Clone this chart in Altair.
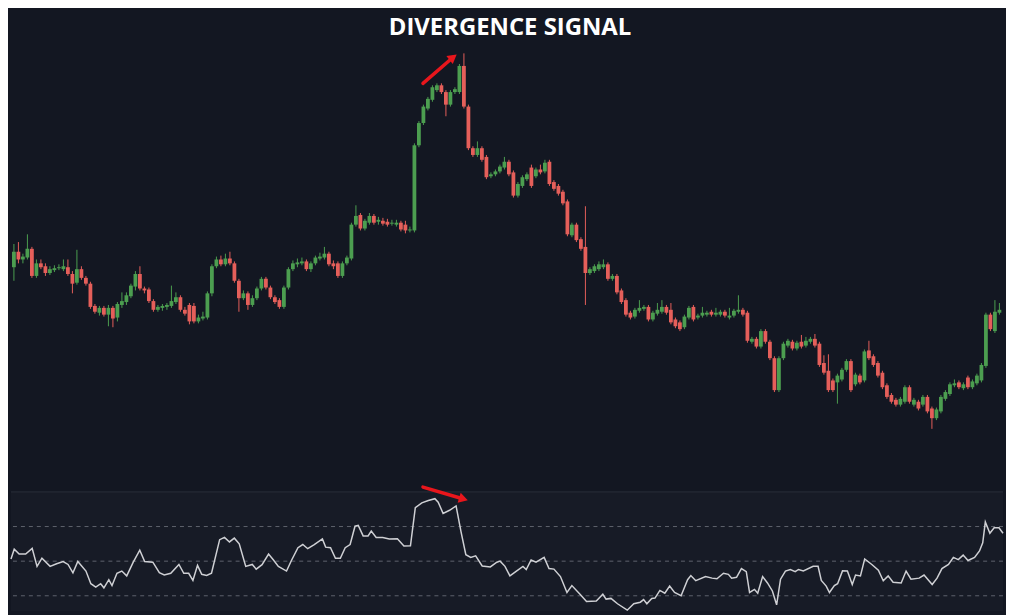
import altair as alt
import pandas as pd

TITLE = "DIVERGENCE SIGNAL"
LEVEL = 500  # candle readings are measured downward from this level

O = [266,250,258,256,247,275,262,265,272,269,
     267,268,266,273,282,268,277,283,306,313,
     308,315,308,318,305,302,296,286,273,288,
     289,301,310,308,307,306,302,297,310,305,
     306,322,319,318,293,265,258,263,257,262,
     280,298,293,305,298,288,278,287,297,300,
     307,287,268,263,262,260,268,262,257,256,
     252,262,262,275,262,257,222,212,226,220,
     213,219,218,219,221,222,220,222,228,228,
     140,117,102,93,83,78,85,98,85,85,
     58,100,143,150,143,152,172,170,167,163,
     157,168,192,182,175,163,172,165,167,157,
     178,182,188,198,233,222,237,245,272,270,
     268,266,263,278,275,290,300,313,317,311,
     309,307,320,314,312,307,310,320,323,
     328,318,307,318,316,315,312,315,315,312,
     318,316,312,310,313,343,340,348,332,343,
     360,393,360,347,343,350,343,347,343,340,
     345,365,373,383,385,382,372,363,387,378,
     383,352,358,365,375,388,398,403,408,405,
     390,408,405,408,400,412,422,415,402,
     397,388,385,391,380,390,386,383,368,315,
     332,313]

C = [250,258,255,247,275,262,266,272,268,267,
     266,265,273,283,268,277,283,307,312,308,
     315,308,319,304,301,295,285,273,288,290,
     301,310,307,306,305,301,297,310,314,322,
     322,318,317,293,265,258,263,257,262,280,
     298,293,305,298,288,278,287,297,302,307,
     287,268,262,261,260,268,262,256,255,252,
     263,265,275,262,256,222,213,226,218,213,
     220,217,221,222,220,220,227,228,227,140,
     117,100,92,80,78,85,98,85,82,58,
     100,143,150,143,155,173,170,167,162,157,
     170,192,180,173,170,182,165,168,158,180,
     185,190,200,232,222,238,247,272,268,265,
     263,263,278,275,292,302,315,318,310,308,
     307,320,313,310,307,313,323,327,330,
     317,308,320,316,313,313,315,313,312,316,
     316,311,310,315,342,340,348,332,343,360,
     393,360,345,342,350,344,348,342,340,347,
     367,375,393,393,378,372,363,393,377,385,
     353,360,367,378,390,400,405,408,402,390,
     405,403,412,400,415,422,413,400,395,
     387,386,390,387,390,384,378,367,315,330,
     312,310]

H = [242,240,252,232,245,258,258,262,265,264,
     263,258,258,270,248,265,275,281,304,306,
     306,305,306,302,292,292,283,270,265,286,
     287,299,305,304,303,285,292,295,307,303,
     303,315,312,291,263,255,254,252,250,260,
     278,290,291,295,286,276,276,285,295,298,
     285,266,259,257,256,258,260,254,251,245,
     250,259,260,260,254,220,202,210,216,210,
     211,214,215,216,217,217,218,218,224,138,
     115,98,90,78,76,76,83,83,80,56,
     45,98,141,136,141,150,168,165,160,152,
     155,166,178,171,168,160,163,160,155,155,
     176,180,186,196,220,220,235,203,266,263,
     260,258,261,273,273,288,298,311,308,300,
     305,305,311,303,300,305,303,318,321,
     315,306,305,314,307,311,310,308,310,310,
     308,309,295,308,311,338,338,330,330,341,
     358,358,343,340,341,342,336,338,338,335,
     343,357,356,381,376,370,361,361,375,376,
     351,342,356,363,373,386,396,401,400,388,
     388,401,403,398,398,410,411,398,393,
     385,382,383,385,378,382,376,365,313,313,
     300,303]

L = [280,262,262,258,277,277,268,275,274,271,
     269,270,275,293,284,279,285,309,314,316,
     317,327,328,322,308,305,298,290,290,293,
     303,312,312,311,310,308,304,312,316,325,
     324,324,321,320,296,267,265,265,264,282,
     312,300,310,307,300,290,289,299,304,309,
     309,289,270,266,264,270,271,264,259,258,
     265,268,277,277,264,259,224,228,228,222,
     222,222,223,224,223,224,229,231,230,230,
     142,119,104,95,85,87,110,100,87,87,
     102,145,152,152,157,175,174,172,169,165,
     172,194,194,184,177,184,174,170,169,182,
     187,192,202,234,235,240,249,305,274,272,
     270,268,280,280,294,304,317,320,319,313,
     311,322,322,316,314,315,325,329,332,
     330,320,322,320,318,317,317,317,317,318,
     320,318,314,317,344,345,350,350,345,362,
     395,395,362,349,352,352,350,349,345,349,
     369,377,395,395,407,384,374,395,389,387,
     385,362,369,380,392,402,407,410,410,407,
     407,410,414,410,417,433,424,417,404,
     399,390,392,393,392,392,388,385,370,332,
     334,315]

OSC_BAR = [-0.65,0.07,1.16,2.61,4.06,5.14,6.23,8.04,9.49,10.94,12.03,13.12,14.2,16.01,17.1,18.19,
           19.28,20.0,21.09,21.8,22.9,23.98,25.07,26.52,27.97,29.06,30.87,32.32,33.41,34.86,36.67,
           37.75,38.84,39.78,40.8,41.74,42.83,43.91,45.72,46.8,47.9,48.98,50.07,51.52,52.97,53.84,
           55.14,56.59,57.68,58.77,60.58,61.67,63.12,64.2,65.29,66.74,68.55,69.27,70.36,71.45,72.54,
           73.62,74.71,75.8,76.52,77.61,78.7,79.41,80.5,81.96,83.41,85.22,86.67,88.12,89.2,90.65,
           92.1,93.55,94.28,95.37,96.81,98.26,99.35,100.43,101.52,102.61,104.06,105.87,107.32,
           108.04,109.13,110.22,111.67,113.12,113.85,114.93,116.02,117.83,118.91,120.0,121.45,
           122.9,123.99,125.8,127.25,129.42,130.87,131.59,132.68,134.13,136.3,137.75,139.2,139.93,
           140.65,141.74,142.46,143.55,144.64,145.72,146.81,148.26,149.71,150.43,151.52,153.7,
           155.14,156.23,157.68,158.77,159.49,160.58,161.67,162.75,163.48,164.57,165.29,166.38,
           167.46,168.55,169.49,170.36,171.45,172.54,173.62,174.35,175.43,177.61,178.7,179.42,
           180.51,181.23,182.32,183.04,184.13,185.22,186.3,187.03,188.12,189.06,190.65,192.1,
           193.19,194.28,195.37,197.17,198.26,199.35,201.16,202.25,204.06,205.14,206.23,207.68,
           208.77,209.86,210.94,212.03,213.48,214.57,215.29,215.87,216.88,217.83,218.91,219.8]

OSC_VAL = [51.3,56.9,54.1,54.1,57.4,47.0,51.7,47.0,48.5,49.8,48.1,43.3,49.8,44.3,37.0,35.0,
           37.0,34.6,39.3,35.9,43.0,44.3,41.5,49.4,56.3,49.8,49.4,43.3,42.0,43.0,48.1,
           43.0,43.0,38.9,47.6,42.4,41.7,43.0,62.4,63.7,61.1,63.3,60.0,47.0,48.1,45.4,
           48.0,54.1,50.7,47.0,44.3,50.4,57.8,59.6,57.2,59.6,62.8,58.1,57.8,51.7,51.7,
           57.8,59.6,70.2,70.7,64.6,64.6,67.4,63.7,63.7,62.8,63.0,58.7,58.9,80.9,83.7,
           85.0,86.1,84.1,77.6,79.4,81.9,67.0,53.7,52.2,53.1,47.2,46.7,49.4,
           50.0,47.0,41.5,44.3,47.0,45.2,50.7,49.4,52.2,45.7,45.4,41.1,
           31.9,35.9,30.9,26.7,27.0,30.9,28.1,28.5,25.4,21.7,25.4,26.3,27.8,
           25.4,28.5,28.7,33.1,31.5,35.6,31.9,30.0,39.3,41.7,38.7,41.1,
           40.2,39.8,43.0,42.4,40.2,40.7,45.7,43.9,31.9,33.7,31.5,41.1,
           37.4,32.8,24.8,39.6,44.3,45.2,43.9,45.2,44.4,47.0,47.0,38.9,
           35.6,31.9,35.9,37.0,44.4,44.3,36.5,42.0,41.5,51.3,48.1,44.8,
           38.7,41.5,37.8,37.4,44.3,39.6,40.2,42.0,36.5,40.2,45.7,48.1,
           52.2,50.9,53.5,50.4,52.2,55.9,60.6,72.6,66.1,69.3,69.3,66.1]

RSI_LEVELS = [70, 50, 30]

# annotation arrows, in bar / value units
PRICE_ARROW_BAR = [90.9, 97.6]
PRICE_ARROW_VAL = [424, 451]
OSC_ARROW_BAR = [90.9, 99.9]
OSC_ARROW_VAL = [92.8, 85.9]

GREEN = "#4c9e50"
RED = "#e55f5a"
ARROW = "#e8161c"
BG = "#131722"
OSC_BG = "#171b26"

n = min(len(O), len(C), len(H), len(L))
candles = pd.DataFrame({
    "bar": list(range(n)),
    "open": [LEVEL - v for v in O[:n]],
    "close": [LEVEL - v for v in C[:n]],
    "high": [LEVEL - v for v in H[:n]],
    "low": [LEVEL - v for v in L[:n]],
})
candles["dir"] = ["up" if c >= o else "down" for o, c in zip(candles["open"], candles["close"])]

k = min(len(OSC_BAR), len(OSC_VAL))
osc = pd.DataFrame({"bar": OSC_BAR[:k], "val": OSC_VAL[:k]})

W = 998
PH = 478
OH = 120

xs = alt.Scale(domain=[-0.65, 219.8], nice=False, zero=False, padding=0)
ys = alt.Scale(domain=[9, 500], nice=False, zero=False, padding=0)
os_ = alt.Scale(domain=[21.1, 90], nice=False, zero=False, padding=0)
col = alt.Color("dir:N", scale=alt.Scale(domain=["up", "down"], range=[GREEN, RED]), legend=None)

base = alt.Chart(candles)
wicks = base.mark_rule(strokeWidth=1).encode(
    x=alt.X("bar:Q", scale=xs, axis=None),
    y=alt.Y("low:Q", scale=ys, axis=None),
    y2="high:Q",
    color=col,
)
bodies = base.mark_bar(size=3.8).encode(
    x=alt.X("bar:Q", scale=xs, axis=None),
    y=alt.Y("open:Q", scale=ys, axis=None),
    y2="close:Q",
    color=col,
)

pa = pd.DataFrame({"x0": [PRICE_ARROW_BAR[0]], "x1": [PRICE_ARROW_BAR[1]],
                   "y0": [PRICE_ARROW_VAL[0]], "y1": [PRICE_ARROW_VAL[1]]})
p_shaft = alt.Chart(pa).mark_rule(color=ARROW, strokeWidth=3.5, strokeCap="round").encode(
    x=alt.X("x0:Q", scale=xs, axis=None), x2="x1:Q",
    y=alt.Y("y0:Q", scale=ys, axis=None), y2="y1:Q",
)
p_head = alt.Chart(pa).mark_point(shape="triangle-up", filled=True, size=110, angle=52,
                                  color=ARROW, opacity=1).encode(
    x=alt.X("x1:Q", scale=xs, axis=None),
    y=alt.Y("y1:Q", scale=ys, axis=None),
)

title = alt.Chart(pd.DataFrame({"t": [TITLE]})).mark_text(
    font="Open Sans", fontSize=24, fontWeight="bold", color="#ffffff",
    align="center", baseline="alphabetic",
).encode(x=alt.value(502), y=alt.value(25), text="t:N")

price = alt.layer(wicks, bodies, p_shaft, p_head, title).properties(width=W, height=PH)

levels = alt.Chart(pd.DataFrame({"lvl": RSI_LEVELS})).mark_rule(
    color="#5f636d", strokeWidth=1, strokeDash=[4, 4]
).encode(y=alt.Y("lvl:Q", scale=os_, axis=None))

sep = alt.Chart(pd.DataFrame({"lvl": [RSI_LEVELS[0]]})).mark_rule(
    color="#2a2e39", strokeWidth=1
).encode(y=alt.value(0))

line = alt.Chart(osc).mark_line(color="#cfd0d4", strokeWidth=1.5).encode(
    x=alt.X("bar:Q", scale=xs, axis=None),
    y=alt.Y("val:Q", scale=os_, axis=None),
    order="bar:Q",
)

oa = pd.DataFrame({"x0": [OSC_ARROW_BAR[0]], "x1": [OSC_ARROW_BAR[1]],
                   "y0": [OSC_ARROW_VAL[0]], "y1": [OSC_ARROW_VAL[1]]})
o_shaft = alt.Chart(oa).mark_rule(color=ARROW, strokeWidth=3.5, strokeCap="round").encode(
    x=alt.X("x0:Q", scale=xs, axis=None), x2="x1:Q",
    y=alt.Y("y0:Q", scale=os_, axis=None), y2="y1:Q",
)
o_head = alt.Chart(oa).mark_point(shape="triangle-up", filled=True, size=110, angle=107,
                                  color=ARROW, opacity=1).encode(
    x=alt.X("x1:Q", scale=xs, axis=None),
    y=alt.Y("y1:Q", scale=os_, axis=None),
)

oscp = alt.layer(levels, sep, line, o_shaft, o_head).properties(
    width=W, height=OH, view=alt.ViewBackground(fill=OSC_BG)
)

chart = alt.vconcat(price, oscp, spacing=0).properties(
    background=BG, padding=0
).configure_view(strokeWidth=0)

chart.save("out.html", embed_options={"renderer": "svg", "actions": False})
